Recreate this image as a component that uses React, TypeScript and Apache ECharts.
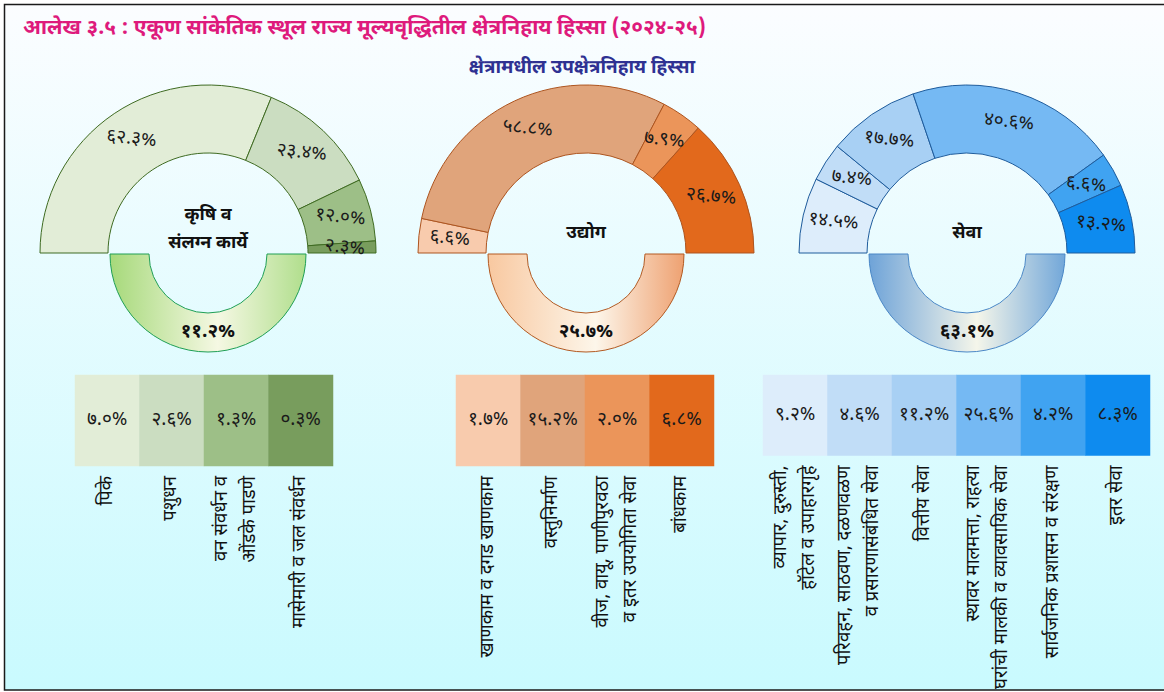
import React, { useEffect, useRef } from "react";
import * as echarts from "echarts";

const FONT = "'Noto Sans Devanagari', 'Noto Sans', 'Lohit Devanagari', sans-serif";

const titleText = "आलेख ३.५ : एकूण सांकेतिक स्थूल राज्य मूल्यवृद्धितील क्षेत्रनिहाय हिस्सा (२०२४-२५)";
const subTitleText = "क्षेत्रामधील उपक्षेत्रनिहाय हिस्सा";

// sector names & sector shares in total GSVA
const sectorNames = ["कृषि व\nसंलग्न कार्ये", "उद्योग", "सेवा"];
const sectorShares = [11.2, 25.7, 63.1];

// sub-sector shares within each sector (%)
const agriWithin = [62.3, 23.4, 12.0, 2.3];
const indWithin = [6.6, 58.8, 7.9, 26.7];
const servWithin = [14.5, 7.4, 17.7, 40.6, 6.6, 13.2];

// sub-sector shares in total GSVA (%)
const agriTotal = [7.0, 2.6, 1.3, 0.3];
const indTotal = [1.7, 15.2, 2.0, 6.8];
const servTotal = [9.2, 4.6, 11.2, 25.6, 4.2, 8.3];

// sub-sector names
const agriNames = ["पिके", "पशुधन", "वन संवर्धन व\nओंडके पाडणे", "मासेमारी व जल संवर्धन"];
const indNames = ["खाणकाम व दगड खाणकाम", "वस्तुनिर्माण", "वीज, वायू, पाणीपुरवठा\nव इतर उपयोगिता सेवा", "बांधकाम"];
const servNames = [
  "व्यापार, दुरुस्ती,\nहॉटेल व उपाहारगृहे",
  "परिवहन, साठवण, दळणवळण\nव प्रसारणासंबंधित सेवा",
  "वित्तीय सेवा",
  "स्थावर मालमत्ता, राहत्या\nघरांची मालकी व व्यावसायिक सेवा",
  "सार्वजनिक प्रशासन व संरक्षण",
  "इतर सेवा",
];

// colours
const agriColors = ["#e2edd7", "#cbddc1", "#9dbf87", "#789d5d"];
const indColors = ["#f8cbad", "#e0a47b", "#eb955a", "#e2691c"];
const servColors = ["#ddedfb", "#c1ddf7", "#a8d0f4", "#75b9f3", "#40a3f1", "#0e8bef"];

const DEV = "०१२३४५६७८९";
const toDev = (s: string) => s.replace(/[0-9]/g, (d) => DEV[+d]);
const pct = (v: number) => toDev(v.toFixed(1)) + "%";

type Group = {
  within: number[];
  total: number[];
  names: string[];
  colors: string[];
  border: string;
  ringBorder: string;
  ringStops: string[];
  cx: number;
  gridLeft: number;
};

const groups: Group[] = [
  {
    within: agriWithin, total: agriTotal, names: agriNames, colors: agriColors,
    border: "#3f6b22", ringBorder: "#1f9f55", ringStops: ["#a6d97a", "#f5f8e3", "#b0de8c"],
    cx: 208, gridLeft: 75,
  },
  {
    within: indWithin, total: indTotal, names: indNames, colors: indColors,
    border: "#ad5520", ringBorder: "#b35a22", ringStops: ["#f8c8a0", "#fdf6ea", "#eea171"],
    cx: 586, gridLeft: 456,
  },
  {
    within: servWithin, total: servTotal, names: servNames, colors: servColors,
    border: "#1f5c9c", ringBorder: "#4a87c6", ringStops: ["#6ea3d8", "#f5f6ea", "#72a7d9"],
    cx: 967, gridLeft: 763,
  },
];

const CY = 253;
const CELL_W = 64.5;

export default function App() {
  const ref = useRef<HTMLDivElement>(null);
  useEffect(() => {
    document.body.style.margin = "0";
    const chart = echarts.init(ref.current!, null, { renderer: "svg" });

    const series: any[] = [];
    const grids: any[] = [];
    const xAxes: any[] = [];
    const yAxes: any[] = [];
    const visualMaps: any[] = [];
    const graphics: any[] = [
      {
        type: "rect",
        z: -100,
        shape: { x: 4.5, y: 4.5, width: 1175, height: 685.5 },
        style: {
          fill: new echarts.graphic.LinearGradient(0, 0, 0, 1, [
            { offset: 0, color: "#fbfdff" },
            { offset: 1, color: "#c9fafe" },
          ]),
          stroke: "#1a1a1a",
          lineWidth: 1.5,
        },
        silent: true,
      },
    ];

    groups.forEach((g, gi) => {
      // upper half-ring: sub-sector shares within sector
      series.push({
        type: "pie",
        silent: true,
        center: [g.cx, CY],
        radius: [100, 168],
        startAngle: 180,
        endAngle: 0,
        clockwise: true,
        avoidLabelOverlap: false,
        itemStyle: { borderColor: g.border, borderWidth: 1 },
        label: {
          show: true,
          position: "inside",
          rotate: -5,
          formatter: (p: any) => pct(p.value),
          fontFamily: FONT,
          fontSize: 19,
          color: "#1a1a1a",
        },
        labelLine: { show: false },
        data: g.within.map((v, i) => ({ value: v, name: g.names[i], itemStyle: { color: g.colors[i] } })),
      });
      // lower half-ring: sector share in total
      series.push({
        type: "pie",
        silent: true,
        center: [g.cx, CY + 1],
        radius: [59, 98],
        startAngle: 0,
        endAngle: -180,
        clockwise: true,
        avoidLabelOverlap: false,
        itemStyle: {
          borderColor: g.ringBorder,
          borderWidth: 1,
          color: new echarts.graphic.LinearGradient(0, 0, 1, 0, [
            { offset: 0, color: g.ringStops[0] },
            { offset: 0.55, color: g.ringStops[1] },
            { offset: 1, color: g.ringStops[2] },
          ]),
        },
        label: {
          show: true,
          position: "inside",
          formatter: (p: any) => pct(p.value),
          fontFamily: FONT,
          fontSize: 19,
          fontWeight: "bold",
          color: "#111",
          offset: [0, -3],
        },
        labelLine: { show: false },
        data: [{ value: sectorShares[gi], name: sectorNames[gi] }],
      });
      // centre text
      graphics.push({
        type: "text",
        x: g.cx,
        y: gi === 0 ? 229 : 233,
        style: {
          text: sectorNames[gi],
          align: "center",
          verticalAlign: "middle",
          font: `bold 18px ${FONT}`,
          lineHeight: 28,
          fill: "#111",
        },
      });
      // cells: sub-sector shares in total
      grids.push({ left: g.gridLeft, top: 375, width: CELL_W * g.total.length, height: 91 });
      xAxes.push({
        type: "category",
        gridIndex: gi,
        data: g.names,
        axisLine: { show: false },
        axisTick: { show: false },
        axisLabel: {
          interval: 0,
          rotate: 90,
          margin: 10,
          fontFamily: FONT,
          fontSize: 18.5,
          lineHeight: 28,
          color: "#111",
        },
      });
      yAxes.push({ type: "category", gridIndex: gi, data: [""], show: false });
      series.push({
        type: "heatmap",
        xAxisIndex: gi,
        yAxisIndex: gi,
        silent: true,
        label: {
          show: true,
          formatter: (p: any) => pct(p.value[2]),
          fontFamily: FONT,
          fontSize: 19,
          color: "#1a1a1a",
        },
        data: g.total.map((v, i) => [i, 0, v]),
      });
      visualMaps.push({
        type: "piecewise",
        show: false,
        seriesIndex: series.length - 1,
        dimension: 0,
        pieces: g.colors.map((c, i) => ({ value: i, color: c })),
      });
    });

    chart.setOption({
      animation: false,
      title: [
        {
          text: titleText,
          left: 18,
          top: 13,
          textStyle: { color: "#de1a7c", fontSize: 21, fontWeight: "bold", fontFamily: FONT },
        },
        {
          text: subTitleText,
          left: "center",
          top: 54,
          textStyle: { color: "#2e3192", fontSize: 19, fontWeight: "bold", fontFamily: FONT },
        },
      ],
      graphic: graphics,
      grid: grids,
      xAxis: xAxes,
      yAxis: yAxes,
      visualMap: visualMaps,
      series,
    });
    return () => chart.dispose();
  }, []);
  return <div ref={ref} style={{ width: 1164, height: 692 }} />;
}
